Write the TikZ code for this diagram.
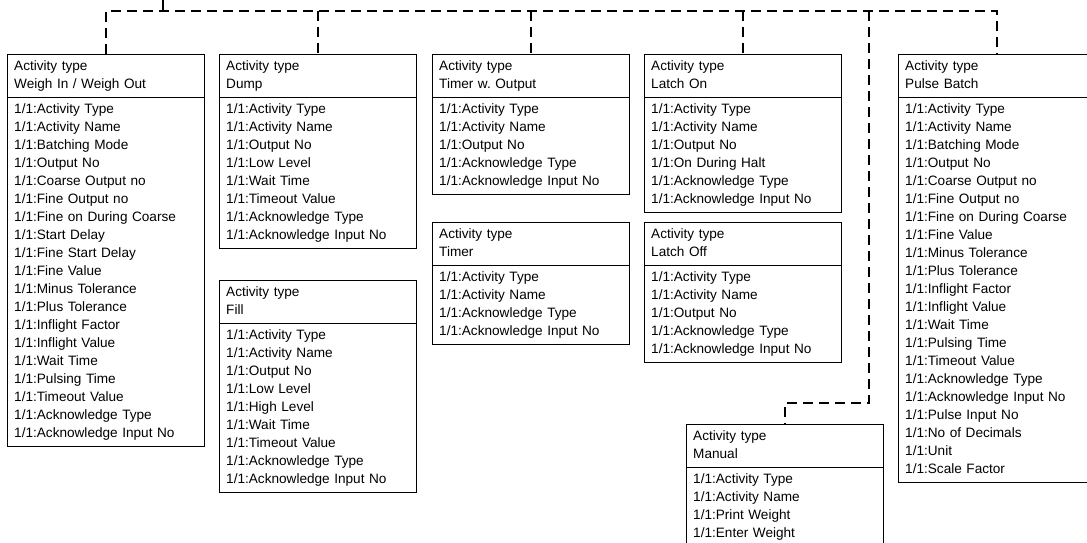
\documentclass[tikz,border=0pt]{standalone}
\usepackage{fontspec}
\setmainfont{Liberation Sans}
\usepackage{tikz}
\usetikzlibrary{shapes.multipart}

\newcommand\actfont{\fontsize{10.2}{13.5}\selectfont}

\begin{document}
\begin{tikzpicture}[
          x=0.75pt, y=-0.75pt,
          actbox/.style={rectangle split, rectangle split parts=2, draw, line width=0.8pt,
            anchor=north west, text width=137.8pt, align=left, inner xsep=5pt, inner ysep=2.25pt,
            font=\actfont},
          link/.style={line width=1.7pt, dash pattern=on 7.5pt off 4.5pt}
        ]
          \useasboundingbox (0,0) rectangle (1087,542);
          \clip (0,0) rectangle (1087,542);
          \coordinate (root) at (163,0);
          \coordinate (bus) at (163,11);
          \coordinate (mdrop) at (869,403);

          \node[actbox] (weigh) at (7,54) {\strut Activity type\\Weigh In / Weigh Out\strut
            \nodepart{two}\strut 1/1:Activity Type\\1/1:Activity Name\\1/1:Batching Mode\\1/1:Output No\\
            1/1:Coarse Output no\\1/1:Fine Output no\\1/1:Fine on During Coarse\\1/1:Start Delay\\
            1/1:Fine Start Delay\\1/1:Fine Value\\1/1:Minus Tolerance\\1/1:Plus Tolerance\\
            1/1:Inflight Factor\\1/1:Inflight Value\\1/1:Wait Time\\1/1:Pulsing Time\\
            1/1:Timeout Value\\1/1:Acknowledge Type\\1/1:Acknowledge Input No\strut};
          \node[actbox] (dump) at (219,54) {\strut Activity type\\Dump\strut
            \nodepart{two}\strut 1/1:Activity Type\\1/1:Activity Name\\1/1:Output No\\1/1:Low Level\\
            1/1:Wait Time\\1/1:Timeout Value\\1/1:Acknowledge Type\\1/1:Acknowledge Input No\strut};
          \node[actbox] (fill) at (219,280) {\strut Activity type\\Fill\strut
            \nodepart{two}\strut 1/1:Activity Type\\1/1:Activity Name\\1/1:Output No\\1/1:Low Level\\
            1/1:High Level\\1/1:Wait Time\\1/1:Timeout Value\\1/1:Acknowledge Type\\
            1/1:Acknowledge Input No\strut};
          \node[actbox] (timerout) at (432,54) {\strut Activity type\\Timer w.\ Output\strut
            \nodepart{two}\strut 1/1:Activity Type\\1/1:Activity Name\\1/1:Output No\\
            1/1:Acknowledge Type\\1/1:Acknowledge Input No\strut};
          \node[actbox] (timer) at (432,222) {\strut Activity type\\Timer\strut
            \nodepart{two}\strut 1/1:Activity Type\\1/1:Activity Name\\
            1/1:Acknowledge Type\\1/1:Acknowledge Input No\strut};
          \node[actbox] (latchon) at (644,54) {\strut Activity type\\Latch On\strut
            \nodepart{two}\strut 1/1:Activity Type\\1/1:Activity Name\\1/1:Output No\\
            1/1:On During Halt\\1/1:Acknowledge Type\\1/1:Acknowledge Input No\strut};
          \node[actbox] (latchoff) at (644,222) {\strut Activity type\\Latch Off\strut
            \nodepart{two}\strut 1/1:Activity Type\\1/1:Activity Name\\1/1:Output No\\
            1/1:Acknowledge Type\\1/1:Acknowledge Input No\strut};
          \node[actbox] (manual) at (686,424) {\strut Activity type\\Manual\strut
            \nodepart{two}\strut 1/1:Activity Type\\1/1:Activity Name\\1/1:Print Weight\\
            1/1:Enter Weight\strut};
          \node[actbox] (pulse) at (898,54) {\strut Activity type\\Pulse Batch\strut
            \nodepart{two}\strut 1/1:Activity Type\\1/1:Activity Name\\1/1:Batching Mode\\1/1:Output No\\
            1/1:Coarse Output no\\1/1:Fine Output no\\1/1:Fine on During Coarse\\1/1:Fine Value\\
            1/1:Minus Tolerance\\1/1:Plus Tolerance\\1/1:Inflight Factor\\1/1:Inflight Value\\
            1/1:Wait Time\\1/1:Pulsing Time\\1/1:Timeout Value\\1/1:Acknowledge Type\\
            1/1:Acknowledge Input No\\1/1:Pulse Input No\\1/1:No of Decimals\\1/1:Unit\\
            1/1:Scale Factor\strut};

          \draw[link] (root) -- (bus);
          \draw[link] (weigh.north) -- (weigh.north |- bus) -- (pulse.north |- bus) -- (pulse.north);
          \draw[link] (dump.north |- bus) -- (dump.north);
          \draw[link] (timerout.north |- bus) -- (timerout.north);
          \draw[link] (latchon.north |- bus) -- (latchon.north);
          \draw[link] (mdrop |- bus) -- (mdrop) -| (manual.north);
        \end{tikzpicture}
\end{document}
